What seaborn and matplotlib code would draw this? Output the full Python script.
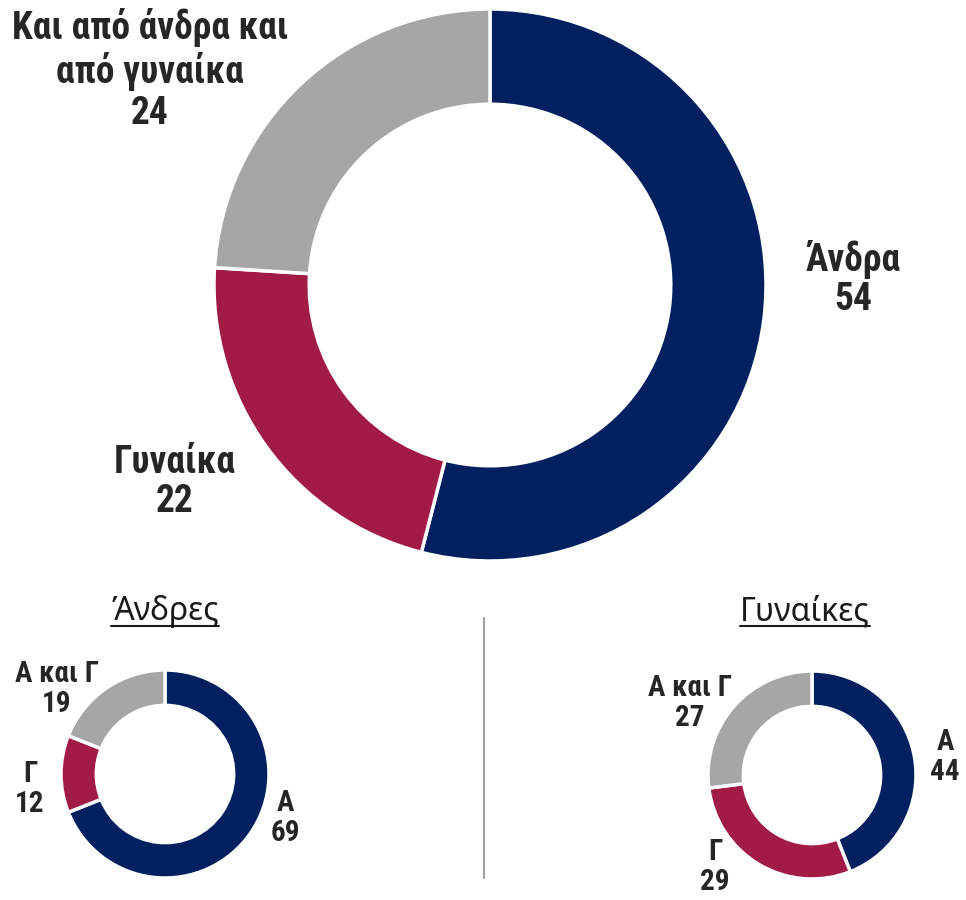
import numpy as np
import matplotlib as mpl
mpl.use('Agg')
import matplotlib.pyplot as plt
from matplotlib import font_manager
import seaborn as sns

# data
cats_all = ["Άνδρα", "Γυναίκα", "Και από άνδρα και\nαπό γυναίκα"]
vals_all = [54, 22, 24]
cats_short = ["Α", "Γ", "Α και Γ"]
vals_men = [69, 12, 19]
vals_women = [44, 29, 27]
title_men = "Άνδρες"
title_women = "Γυναίκες"

colors = ["#002060", "#A21B45", "#A6A6A6"]
txt_col = "#262626"

sns.set_theme(style="white")
installed = {f.name for f in font_manager.fontManager.ttflist}
narrow = [f for f in ["Liberation Sans Narrow", "Roboto Condensed", "Roboto"] if f in installed][0]
plt.rcParams['font.family'] = [narrow, 'DejaVu Sans']

W, H = 966, 900
fig = plt.figure(figsize=(W / 100, H / 100), dpi=100)
fig.patch.set_facecolor("white")


def px(x, y):
    return x / W, 1 - y / H


def donut(cx, cy, r, vals, width):
    ax = fig.add_axes([(cx - r) / W, 1 - (cy + r) / H, 2 * r / W, 2 * r / H])
    ax.pie(vals, colors=colors, startangle=90, counterclock=False,
           wedgeprops=dict(width=width, edgecolor="white", linewidth=2.5))
    ax.set_xlim(-1, 1)
    ax.set_ylim(-1, 1)
    ax.set_aspect("equal")
    ax.axis("off")
    return ax


donut(490, 285, 276, vals_all, 0.345)
donut(165, 774, 104, vals_men, 0.34)
donut(812, 775, 104, vals_women, 0.34)


def label(x, y, name, val, size, ls=1.1):
    fig.text(*px(x, y), f"{name}\n{val}", ha="center", va="center",
             fontsize=size, fontweight="bold", color=txt_col, linespacing=ls)


# big donut labels
label(853, 279, cats_all[0], vals_all[0], 27)
label(175, 482, cats_all[1], vals_all[1], 27)
label(150, 70, cats_all[2], vals_all[2], 27, ls=1.15)

# small donut labels
label(285, 818, cats_short[0], vals_men[0], 21)
label(30, 789, cats_short[1], vals_men[1], 21)
label(57, 689, cats_short[2], vals_men[2], 21)
label(945, 757, cats_short[0], vals_women[0], 21)
label(715, 867, cats_short[1], vals_women[1], 21)
label(690, 703, cats_short[2], vals_women[2], 21)

# titles with underline
titles = []
for x, t in [(165, title_men), (805, title_women)]:
    titles.append(fig.text(*px(x, 612), t, ha="center", va="center", fontsize=23,
                           color="#1a1a1a", family=["Noto Sans", "DejaVu Sans"]))
fig.canvas.draw()
inv = fig.transFigure.inverted()
for t in titles:
    bb = t.get_window_extent()
    (x0, y0), (x1, _) = inv.transform([(bb.x0, bb.y0 + 3), (bb.x1, bb.y0)])
    fig.add_artist(plt.Line2D([x0, x1], [y0, y0], color="#1a1a1a", lw=1.5,
                              transform=fig.transFigure))

# separator
fig.add_artist(plt.Line2D([px(484, 0)[0]] * 2, [px(0, 618)[1], px(0, 878)[1]],
                          color="#A0A0A0", lw=1.5, transform=fig.transFigure))

fig.savefig("out.png", dpi=100, facecolor="white")
